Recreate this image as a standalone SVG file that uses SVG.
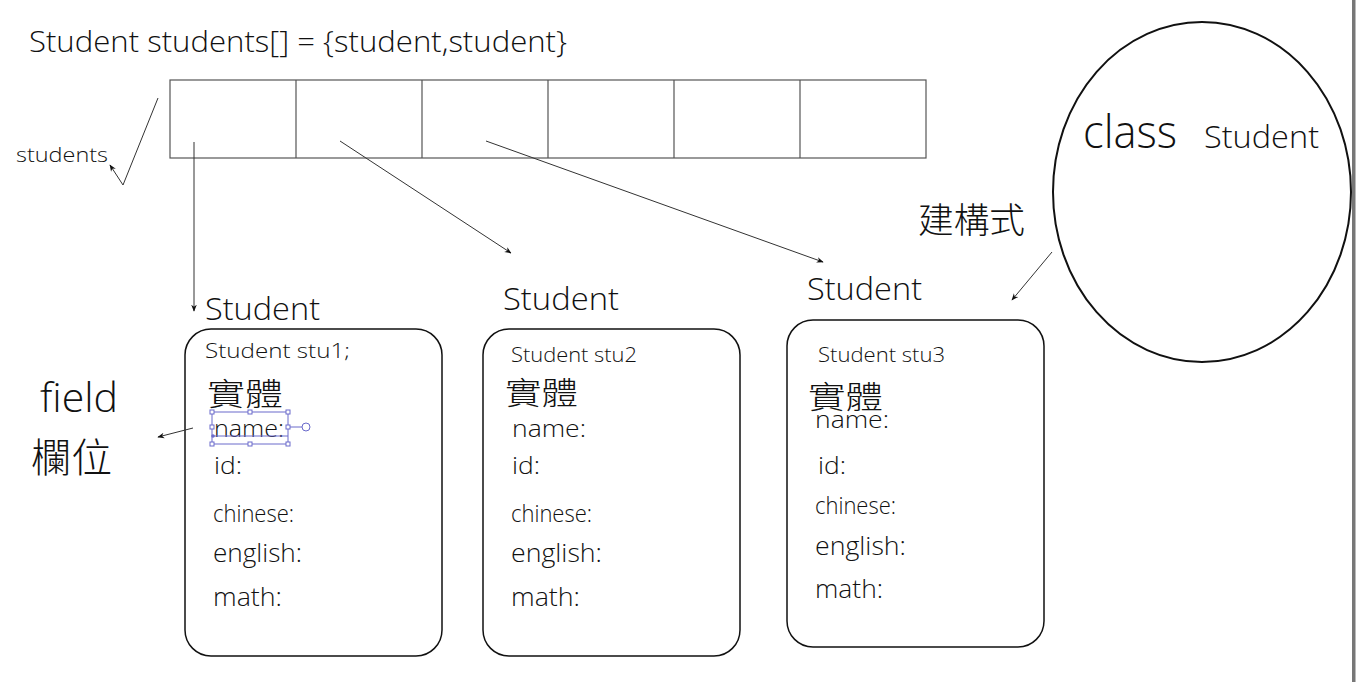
<svg xmlns="http://www.w3.org/2000/svg" width="1356" height="682" viewBox="0 0 1356 682">
<style>
text{font-family:"Open Sans","Noto Sans CJK TC",sans-serif;font-weight:300;fill:#111}
.cjk{font-family:"Noto Sans CJK TC","Noto Sans CJK JP",sans-serif;font-weight:300}
.box{fill:#fff;stroke:#111;stroke-width:1.5}
.cell{fill:#fff;stroke:#555;stroke-width:1.2}
.conn{fill:none;stroke:#333;stroke-width:1}
.sel{fill:#fff;stroke:#6a6acb;stroke-width:1}
.sell{fill:none;stroke:#6a6acb;stroke-width:1}
</style>
<defs>
<marker id="ah" viewBox="0 0 10 10" refX="9" refY="5" markerWidth="7" markerHeight="7" orient="auto" markerUnits="userSpaceOnUse">
<path d="M0,1 L10,5 L0,9 L3,5 Z" fill="#111"/>
</marker>
</defs>
<rect x="0" y="0" width="1356" height="682" fill="#fff"/>
<rect x="1352" y="0" width="3.5" height="682" fill="#777"/>

<g id="title"><text x="29" y="52" font-size="29" textLength="538" lengthAdjust="spacingAndGlyphs">Student students[] = {student,student}</text></g>

<g id="array">
<rect class="cell" x="170" y="80" width="756" height="78"/>
<path class="cell" d="M296,80V158M422,80V158M548,80V158M674,80V158M800,80V158"/>
</g>

<g id="students-label"><text x="16" y="162" font-size="21" textLength="92" lengthAdjust="spacingAndGlyphs">students</text></g>

<g id="class-student">
<ellipse cx="1202" cy="192" rx="149" ry="170" fill="#fff" stroke="#111" stroke-width="2"/>
<text x="1083" y="148" font-size="46" textLength="94" lengthAdjust="spacingAndGlyphs">class</text>
<text x="1204" y="148" font-size="32" textLength="115" lengthAdjust="spacingAndGlyphs">Student</text>
</g>

<g id="constructor-label"><text class="cjk" x="918" y="233" font-size="35" textLength="107" lengthAdjust="spacingAndGlyphs">建構式</text></g>

<g id="field-label">
<text x="40" y="412" font-size="40" textLength="78" lengthAdjust="spacingAndGlyphs">field</text>
<text class="cjk" x="31" y="472" font-size="40" textLength="81" lengthAdjust="spacingAndGlyphs">欄位</text>
</g>

<g id="stu1">
<text x="205" y="320" font-size="32" textLength="115" lengthAdjust="spacingAndGlyphs">Student</text>
<rect class="box" x="185" y="329" width="257" height="327" rx="26"/>
<text x="205" y="358" font-size="20" textLength="145" lengthAdjust="spacingAndGlyphs">Student stu1;</text>
<text class="cjk" x="207" y="405" font-size="31" textLength="76" lengthAdjust="spacingAndGlyphs">實體</text>
<text x="214" y="437" font-size="24" textLength="70" lengthAdjust="spacingAndGlyphs">name:</text>
<text x="214" y="474" font-size="24" textLength="28" lengthAdjust="spacingAndGlyphs">id:</text>
<text x="213" y="522" font-size="23" textLength="81" lengthAdjust="spacingAndGlyphs">chinese:</text>
<text x="213" y="562" font-size="25" textLength="89" lengthAdjust="spacingAndGlyphs">english:</text>
<text x="213" y="606" font-size="25" textLength="69" lengthAdjust="spacingAndGlyphs">math:</text>
</g>

<g id="selection">
<rect class="sell" x="212" y="412" width="76" height="32"/>
<line class="sell" x1="212" y1="436" x2="288" y2="436"/>
<line class="sell" x1="288" y1="427" x2="302" y2="427"/>
<circle class="sel" cx="306" cy="427" r="4"/>
<rect class="sel" x="210" y="410" width="4" height="4"/>
<rect class="sel" x="248" y="410" width="4" height="4"/>
<rect class="sel" x="286" y="410" width="4" height="4"/>
<rect class="sel" x="210" y="425" width="4" height="4"/>
<rect class="sel" x="286" y="425" width="4" height="4"/>
<rect class="sel" x="210" y="442" width="4" height="4"/>
<rect class="sel" x="248" y="442" width="4" height="4"/>
<rect class="sel" x="286" y="442" width="4" height="4"/>
<circle cx="213" cy="436" r="1.8" fill="#6a6acb"/>
</g>

<g id="stu2">
<text x="503" y="310" font-size="32" textLength="116" lengthAdjust="spacingAndGlyphs">Student</text>
<rect class="box" x="483" y="329" width="257" height="327" rx="26"/>
<text x="511" y="362" font-size="20" textLength="126" lengthAdjust="spacingAndGlyphs">Student stu2</text>
<text class="cjk" x="505" y="404" font-size="31" textLength="73" lengthAdjust="spacingAndGlyphs">實體</text>
<text x="512" y="437" font-size="24" textLength="74" lengthAdjust="spacingAndGlyphs">name:</text>
<text x="512" y="474" font-size="24" textLength="28" lengthAdjust="spacingAndGlyphs">id:</text>
<text x="511" y="522" font-size="23" textLength="81" lengthAdjust="spacingAndGlyphs">chinese:</text>
<text x="511" y="562" font-size="25" textLength="91" lengthAdjust="spacingAndGlyphs">english:</text>
<text x="511" y="606" font-size="25" textLength="69" lengthAdjust="spacingAndGlyphs">math:</text>
</g>

<g id="stu3">
<text x="807" y="300" font-size="32" textLength="115" lengthAdjust="spacingAndGlyphs">Student</text>
<rect class="box" x="787" y="320" width="257" height="327" rx="26"/>
<text x="818" y="362" font-size="20" textLength="127" lengthAdjust="spacingAndGlyphs">Student stu3</text>
<text class="cjk" x="808" y="408" font-size="31" textLength="75" lengthAdjust="spacingAndGlyphs">實體</text>
<text x="815" y="428" font-size="24" textLength="74" lengthAdjust="spacingAndGlyphs">name:</text>
<text x="818" y="474" font-size="24" textLength="28" lengthAdjust="spacingAndGlyphs">id:</text>
<text x="815" y="514" font-size="23" textLength="81" lengthAdjust="spacingAndGlyphs">chinese:</text>
<text x="815" y="555" font-size="25" textLength="91" lengthAdjust="spacingAndGlyphs">english:</text>
<text x="815" y="598" font-size="25" textLength="68" lengthAdjust="spacingAndGlyphs">math:</text>
</g>

<g id="connectors">
<polyline class="conn" points="158,98 123,185 110,165" marker-end="url(#ah)"/>
<line class="conn" x1="194" y1="142" x2="194" y2="311" marker-end="url(#ah)"/>
<line class="conn" x1="340" y1="141" x2="511" y2="253" marker-end="url(#ah)"/>
<line class="conn" x1="486" y1="141" x2="823" y2="262" marker-end="url(#ah)"/>
<line class="conn" x1="1052" y1="252" x2="1012" y2="300" marker-end="url(#ah)"/>
<line class="conn" x1="193" y1="428" x2="158" y2="437" marker-end="url(#ah)"/>
</g>
</svg>
